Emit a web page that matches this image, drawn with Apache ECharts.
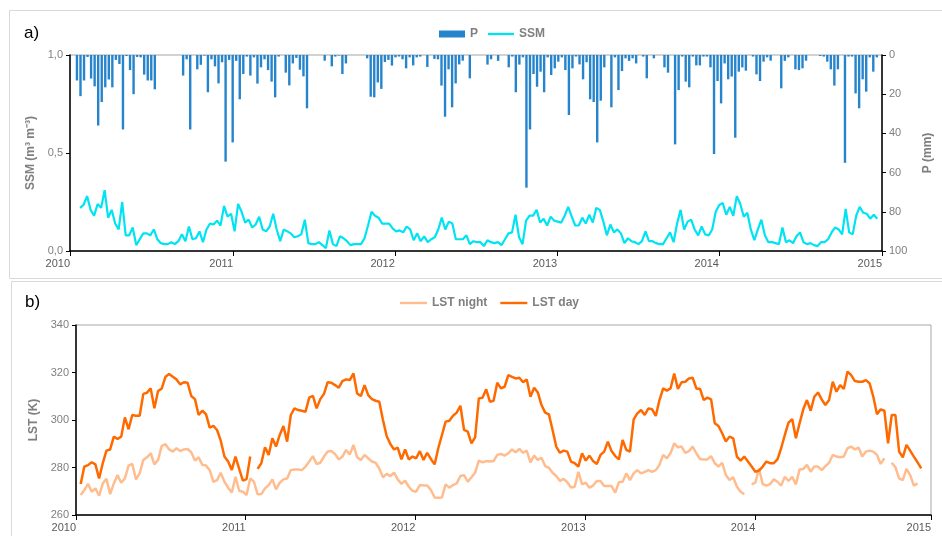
<!DOCTYPE html>
<html>
<head>
<meta charset="utf-8">
<title>SSM, P and LST 2010-2015</title>
<script src="https://cdn.jsdelivr.net/npm/echarts@6/dist/echarts.min.js"></script>
<style>
  html, body { margin: 0; padding: 0; background: #fff; }
  #chart { width: 942px; height: 536px; }
</style>
</head>
<body>
<div id="chart"></div>
<script>
// 8-day series, first and last date of each one
const pRange = ['2010-01-14', '2014-12-23']
const ssmRange = ['2010-01-21', '2014-12-24']
const lstRange = ['2010-01-11', '2014-12-24']

// precipitation (mm), drawn downward from the top
const pValues = [
  13, 21, 13, 1, 12, 16, 36, 24, 16.5, 12.5,
  16.5, 2.5, 4.6, 38, 0.5, 7.7, 20, 1, 1.2, 10,
  13, 13, 17.5, 0, 0, 0, 0, 0, 0, 0,
  10.5, 2.2, 38, 0, 7.3, 5, 0.3, 19, 2.2, 5.8,
  14.5, 3.7, 54.4, 2.5, 44.6, 3, 22.6, 9.7, 0.8, 10.5,
  1.2, 14.6, 6.3, 2.2, 7.7, 13.6, 21.6, 0.8, 0, 9,
  15.5, 4.3, 1.5, 7.5, 10.9, 27.2, 0, 0, 0, 0,
  2.9, 0, 5.8, 0.8, 0.3, 9.7, 4.3, 0, 0, 0,
  0, 0, 1.7, 21.3, 21.6, 14, 17.3, 3.6, 2.5, 5.4,
  1.2, 0.8, 2.2, 6.8, 1.2, 5.3, 1.2, 0.8, 0, 6.1,
  0, 2, 2.2, 15.6, 31.5, 7.3, 26.7, 14.5, 4.8, 2.9,
  0, 11.9, 0, 0, 0, 0, 4.9, 2.2, 0, 3,
  0, 0, 6.3, 0.8, 19, 4.9, 1.2, 67.7, 38, 9.7,
  16.2, 8.5, 19, 1.2, 10.2, 6.8, 3.4, 1.2, 7.7, 30.6,
  6.8, 0.8, 4.8, 12.4, 3.7, 22.6, 24, 44.6, 23.3, 6.3,
  0, 26.7, 1.2, 17.9, 8.2, 1.7, 3, 1.7, 4.3, 0,
  0.8, 11.9, 0, 1.7, 0, 0, 6.3, 9, 0, 45.6,
  17.9, 0.8, 13.6, 16.5, 0.8, 5.3, 5.3, 0.8, 0.8, 6.3,
  50.5, 13.3, 24.7, 4.3, 12.4, 11, 42.2, 8.5, 6.3, 8,
  0, 0.8, 9.9, 13.3, 3.4, 1.2, 2.9, 0, 0, 17,
  3, 1.2, 0, 7.3, 7.7, 6.8, 2.9, 0, 0, 0,
  0.5, 0.8, 3.4, 7.3, 15.6, 7.3, 0, 55, 0.8, 0.8,
  19.6, 27.2, 12.4, 18.7, 1.2, 8.5, 1.2
]

// surface soil moisture (m3 m-3)
const ssmValues = [
  0.22, 0.235, 0.28, 0.21, 0.18, 0.24, 0.22, 0.31, 0.17, 0.21,
  0.14, 0.11, 0.25, 0.08, 0.08, 0.12, 0.03, 0.06, 0.09, 0.09,
  0.08, 0.11, 0.06, 0.04, 0.035, 0.035, 0.045, 0.035, 0.05, 0.085,
  0.05, 0.125, 0.06, 0.065, 0.1, 0.045, 0.11, 0.14, 0.135, 0.155,
  0.13, 0.23, 0.175, 0.19, 0.1, 0.24,
  0.2, 0.145, 0.16, 0.12, 0.135, 0.175, 0.11, 0.1, 0.125, 0.19,
  0.11, 0.05, 0.11, 0.1, 0.09, 0.07, 0.075, 0.085, 0.16, 0.04,
  0.035, 0.035, 0.045, 0.03, 0.015, 0.105, 0.035, 0.025, 0.075,
  0.065, 0.05, 0.03, 0.035, 0.035, 0.035, 0.065, 0.13, 0.2, 0.18,
  0.17, 0.14, 0.14, 0.14, 0.115, 0.1, 0.105, 0.095, 0.125, 0.11,
  0.055, 0.09, 0.05, 0.075, 0.045, 0.06, 0.07, 0.11, 0.17, 0.11,
  0.15, 0.14, 0.06, 0.06, 0.06, 0.08, 0.035, 0.05, 0.045, 0.045,
  0.025, 0.055, 0.045, 0.04, 0.045, 0.03, 0.06, 0.09, 0.095, 0.185,
  0.07, 0.035, 0.155, 0.18, 0.18, 0.21, 0.145, 0.165, 0.13, 0.175,
  0.155, 0.15, 0.145, 0.18, 0.225, 0.175, 0.13, 0.13, 0.17, 0.14,
  0.185, 0.145, 0.22, 0.21, 0.15, 0.08, 0.135,
  0.095, 0.11, 0.09, 0.04, 0.065, 0.05, 0.045, 0.035, 0.05, 0.1,
  0.05, 0.05, 0.04, 0.035, 0.035, 0.065, 0.095, 0.045, 0.14, 0.21,
  0.11, 0.15, 0.16, 0.11, 0.08, 0.125, 0.085, 0.08, 0.11, 0.2,
  0.235, 0.245, 0.185, 0.225, 0.18, 0.28, 0.24, 0.175, 0.195, 0.11,
  0.055, 0.11, 0.16, 0.08, 0.045, 0.045, 0.04, 0.035, 0.12, 0.045,
  0.055, 0.04, 0.075, 0.095, 0.045, 0.035, 0.04, 0.03, 0.025, 0.045,
  0.045, 0.06, 0.095, 0.12, 0.11, 0.085, 0.215, 0.095, 0.085, 0.18,
  0.225, 0.195, 0.19, 0.165, 0.185, 0.165
]

// land surface temperature (K), null = no data
const lstDay = [
  273.1, 280.4, 281, 282.2, 281.3, 275.4, 281.8, 287.1, 287.6, 293,
  292, 293, 301.1, 296.1, 302.1, 301.8, 301.8, 311, 311.5, 313.3,
  304.9, 312.2, 313.3, 318.2, 319.4, 318.2, 317.1, 315, 315.9, 315.7,
  310.1, 308.8, 302.1, 303.9, 302.5, 296.8, 297.5, 295.8, 291.3, 284.6,
  282.5, 279, 284.6, 279.4, 274.5, 275.1, 284.6, null,
  279.4, 281.8, 288.5, 285.3, 292.3, 288.8, 293.7, 297.5, 290.9, 302.1,
  304.9, 304.2, 303.9, 303.5, 309.4, 310.2, 304.9, 308.8, 311, 315.9,
  315.7, 314.7, 313.6, 316.4, 317.1, 316.8, 319.6, 311.2, 310.1,
  314.7, 310.5, 308.8, 308.1, 307.7, 300, 293.3, 289.9, 287.6, 288.4,
  283.4, 287.6, 283.4, 284.6, 283.9, 286.9, 283.2, 286.2, 283.6, 281.3,
  288.1, 293.7, 299.3, 299.7, 301.8, 303.1, 306, 295.8, 295.1, 290.2,
  292.7, 309.1, 309.4, 312.9, 307.7, 308.1, 315.7, 313.3, 314, 318.9,
  318.2, 317.5, 317.8, 315.9, 317.1, 309.8, 313.6, 311.6, 306.3, 303.1,
  302.4, 295.8, 288.8, 286.2, 287.1, 286.7, 282.5, 281.8, 280.4, 286,
  282.9, 285, 282.7, 281.5, 285.3, 286.7, 290.9, 286.9, 284.8, 283.4,
  291.6, 287.4, 286.7, 300.3, 302.8, 304.2, 302.1,
  304.9, 304.5, 301.7, 308.4, 313.3, 312.4, 313.3, 319.6, 313.1, 315.9,
  316.1, 317.5, 317.8, 313.3, 313.1, 308.4, 309.4, 308.7, 298.6, 297.5,
  294.4, 290.9, 293, 292.3, 284.6, 282.9, 284.6, 282.5, 280.4, 278.2,
  278.7, 280.4, 282.5, 281.8, 281.8, 283.4, 288.1, 293.7, 298.9, 300.4,
  292.3, 298.6, 304.5, 308.4, 303.9, 309.8, 311.6, 308.7, 306.3, 308.4,
  316.1, 311.9, 314.7, 313.1, 320.4, 318.9, 316.4, 316.1, 316.1, 316.8,
  315.4, 309.8, 302.4, 304.5, 303.9, 290.2, 302.1, 302.1, 286.7, 284.3,
  289.5, 287.1, 284.6, 282.2, 279.6
]
const lstNight = [
  268.4, 270.5, 273.1, 269.8, 271.2, 268.1, 273.3, 275.2, 268.8, 273.3,
  276.8, 273.6, 275.4, 280.8, 281.5, 275, 277.5, 283.2, 284.3, 286,
  281.3, 283.2, 289.1, 289.8, 287.6, 286.7, 288.1, 286.9, 287.6, 287.8,
  286.4, 282.9, 284.3, 281.1, 280.8, 278.9, 274, 274.7, 277.8, 274,
  271.5, 269.5, 276.1, 270.2, 269.8, 268.4, 275.4, 274, 268.7, 268.8,
  271.2, 272.6, 275, 270.8, 273.6, 275, 275.4, 278.9, 279.2, 279.2,
  278.9, 280.4, 282.5, 284.8, 281.5, 282, 284.6, 286.7, 286.9, 285.7,
  283.4, 284.6, 287.4, 285.5, 289.5, 284.3, 283.2,
  285.3, 283.9, 282.5, 282, 279.6, 275.9, 277.3, 276.4, 277.8, 275,
  273.1, 274.5, 271.9, 270.2, 269.8, 272.6, 272.4, 272.4, 270.5, 267.4,
  267.3, 267.4, 272.9, 271.5, 272.6, 273.3, 276.4, 276.8, 274, 275.9,
  277.8, 282.9, 282.2, 282.7, 282.5, 282.7, 285.3, 285.7, 285, 286,
  287.6, 286.4, 287.8, 286.2, 287.1, 282.2, 285, 283.2, 284.1, 280.6,
  279.9, 277.8, 276.4, 274.3, 275.2, 273.8, 271.6, 271.9, 278.2, 272.9,
  273.6, 271.5, 272.4, 274.3, 274.3, 272.2, 272.2, 272.2, 269.4, 273.8,
  274, 277.5, 274.7, 277.5, 278.9, 277.5, 278.2,
  278.9, 278.2, 278.9, 281.1, 285.3, 283.9, 286, 290.2, 288.5, 288.8,
  286.2, 286.9, 288.8, 286, 283.6, 283.4, 283.4, 284.8, 281.8, 280.4,
  282, 276.8, 274.7, 275.9, 271.9, 269.8, 268.8, null, 272.9, 273.6,
  279.6, 273, 272.4, 273, 275, 274, 272.4, 276.1, 274.3, 276.1,
  272.9, 279.2, 279.4, 281.1, 278.2, 280.4, 280.4, 278.9, 280.6, 282,
  285.3, 284.6, 284.3, 284.6, 288.1, 288.8, 287.6, 288.4, 284.6, 286.7,
  287.1, 286.7, 285.3, 281.5, 283.9, null, 282, 280.1, 275.4, 274.7,
  279.4, 276.8, 272.4, 273.3, null
]

// tick labels
const ssmTicks = ['0,0', '0,5', '1,0']

// spread the values evenly between first and last date of the series
function toDated (range, values) {
  const t0 = new Date(range[0] + 'T00:00:00').getTime()
  const t1 = new Date(range[1] + 'T00:00:00').getTime()
  const step = (t1 - t0) / (values.length - 1)
  return values.map((v, i) => [t0 + step * i, v])
}

const DAY = 24 * 3600 * 1000
const YEAR = 365 * DAY
const labelFont = 'Liberation Sans, Arial, sans-serif'
const grayText = '#7f7f7f'
// thin bar used as legend icon for the lines
const lineIcon = 'path://M0,0H27V2.4H0Z'

function timeAxis (gridIndex, max) {
  return {
    type: 'time',
    gridIndex: gridIndex,
    min: new Date('2010-01-01T00:00:00').getTime(),
    max: new Date(max + 'T00:00:00').getTime(),
    minInterval: YEAR,
    maxInterval: YEAR + DAY,
    axisLine: { show: true, lineStyle: { color: '#000', width: 1.5 } },
    axisTick: { show: true, length: 5, lineStyle: { color: '#000' } },
    splitLine: { show: false },
    axisLabel: {
      // year of the nearest 1 January
      formatter: (v) => String(new Date(v + 60 * DAY).getFullYear()),
      align: 'right',
      margin: 7,
      showMinLabel: true,
      showMaxLabel: true,
      color: '#595959',
      fontSize: 11,
      fontFamily: labelFont
    }
  }
}

const yName = {
  color: grayText,
  fontWeight: 'bold',
  fontSize: 12,
  fontFamily: labelFont
}
const yLabel = { color: grayText, fontSize: 11, fontFamily: labelFont, margin: 7 }
const legendText = { color: grayText, fontWeight: 'bold', fontSize: 12, fontFamily: labelFont }

const myChart = echarts.init(document.getElementById('chart'), null, { renderer: 'canvas' })

myChart.setOption({
  animation: false,
  backgroundColor: '#fff',
  // panel frames and panel letters
  graphic: [
    { type: 'rect', shape: { x: 9.5, y: 10.5, width: 945, height: 268 }, style: { fill: 'none', stroke: '#d9d9d9', lineWidth: 1 } },
    { type: 'rect', shape: { x: 11.5, y: 281.5, width: 945, height: 270 }, style: { fill: 'none', stroke: '#d9d9d9', lineWidth: 1 } },
    { type: 'text', left: 24, top: 25, style: { text: 'a)', fontSize: 17, fill: '#000', fontFamily: labelFont } },
    { type: 'text', left: 25, top: 294, style: { text: 'b)', fontSize: 17, fill: '#000', fontFamily: labelFont } }
  ],
  legend: [
    {
      data: [{ name: 'P', icon: 'rect' }, { name: 'SSM', icon: lineIcon }],
      left: 434,
      top: 23,
      itemWidth: 26,
      itemHeight: 7,
      itemGap: 10,
      textStyle: legendText
    },
    {
      data: [{ name: 'LST night', icon: lineIcon }, { name: 'LST day', icon: lineIcon }],
      left: 395,
      top: 292,
      itemWidth: 27,
      itemHeight: 7,
      itemGap: 13,
      textStyle: legendText
    }
  ],
  grid: [
    { left: 70, right: 49, top: 55, height: 196, show: true, borderColor: '#a6a6a6', borderWidth: 1 },
    { left: 76, right: 11, top: 325, height: 190, show: true, borderColor: '#a6a6a6', borderWidth: 1 }
  ],
  xAxis: [
    timeAxis(0, '2015-01-01'),
    timeAxis(1, '2015-01-14')
  ],
  yAxis: [
    {
      // SSM, left
      type: 'value',
      gridIndex: 0,
      min: 0,
      max: 1,
      interval: 0.5,
      name: 'SSM (m³ m⁻³)',
      nameLocation: 'middle',
      nameRotate: 90,
      nameGap: 25,
      nameTextStyle: yName,
      axisLine: { show: true, lineStyle: { color: '#000', width: 1.5 } },
      axisTick: { show: true, length: 4, lineStyle: { color: '#000' } },
      splitLine: { show: false },
      axisLabel: Object.assign({}, yLabel, { formatter: (v) => ssmTicks[Math.round(v * 2)] })
    },
    {
      // P, right and upside down
      type: 'value',
      gridIndex: 0,
      position: 'right',
      inverse: true,
      min: 0,
      max: 100,
      interval: 20,
      name: 'P (mm)',
      nameLocation: 'middle',
      nameRotate: 90,
      nameGap: 40,
      nameTextStyle: yName,
      axisLine: { show: true, lineStyle: { color: '#000', width: 1.5 } },
      axisTick: { show: true, length: 4, lineStyle: { color: '#000' } },
      splitLine: { show: false },
      axisLabel: yLabel
    },
    {
      // LST
      type: 'value',
      gridIndex: 1,
      min: 260,
      max: 340,
      interval: 20,
      name: 'LST (K)',
      nameLocation: 'middle',
      nameRotate: 90,
      nameGap: 31,
      nameTextStyle: yName,
      axisLine: { show: true, lineStyle: { color: '#000', width: 1.5 } },
      axisTick: { show: true, length: 4, lineStyle: { color: '#000' } },
      splitLine: { show: false },
      axisLabel: yLabel
    }
  ],
  series: [
    {
      name: 'P',
      type: 'bar',
      xAxisIndex: 0,
      yAxisIndex: 1,
      barWidth: 2.4,
      itemStyle: { color: '#2584cc' },
      data: toDated(pRange, pValues)
    },
    {
      name: 'SSM',
      type: 'line',
      xAxisIndex: 0,
      yAxisIndex: 0,
      symbol: 'none',
      itemStyle: { color: '#00e3f2' },
      lineStyle: { color: '#00e3f2', width: 2.2 },
      data: toDated(ssmRange, ssmValues)
    },
    {
      name: 'LST night',
      type: 'line',
      xAxisIndex: 1,
      yAxisIndex: 2,
      symbol: 'none',
      connectNulls: false,
      itemStyle: { color: '#ffbd8f' },
      lineStyle: { color: '#ffbd8f', width: 2.5 },
      data: toDated(lstRange, lstNight)
    },
    {
      name: 'LST day',
      type: 'line',
      xAxisIndex: 1,
      yAxisIndex: 2,
      symbol: 'none',
      connectNulls: false,
      itemStyle: { color: '#ff6a00' },
      lineStyle: { color: '#ff6a00', width: 2.5 },
      data: toDated(lstRange, lstDay)
    }
  ]
})
</script>
</body>
</html>
